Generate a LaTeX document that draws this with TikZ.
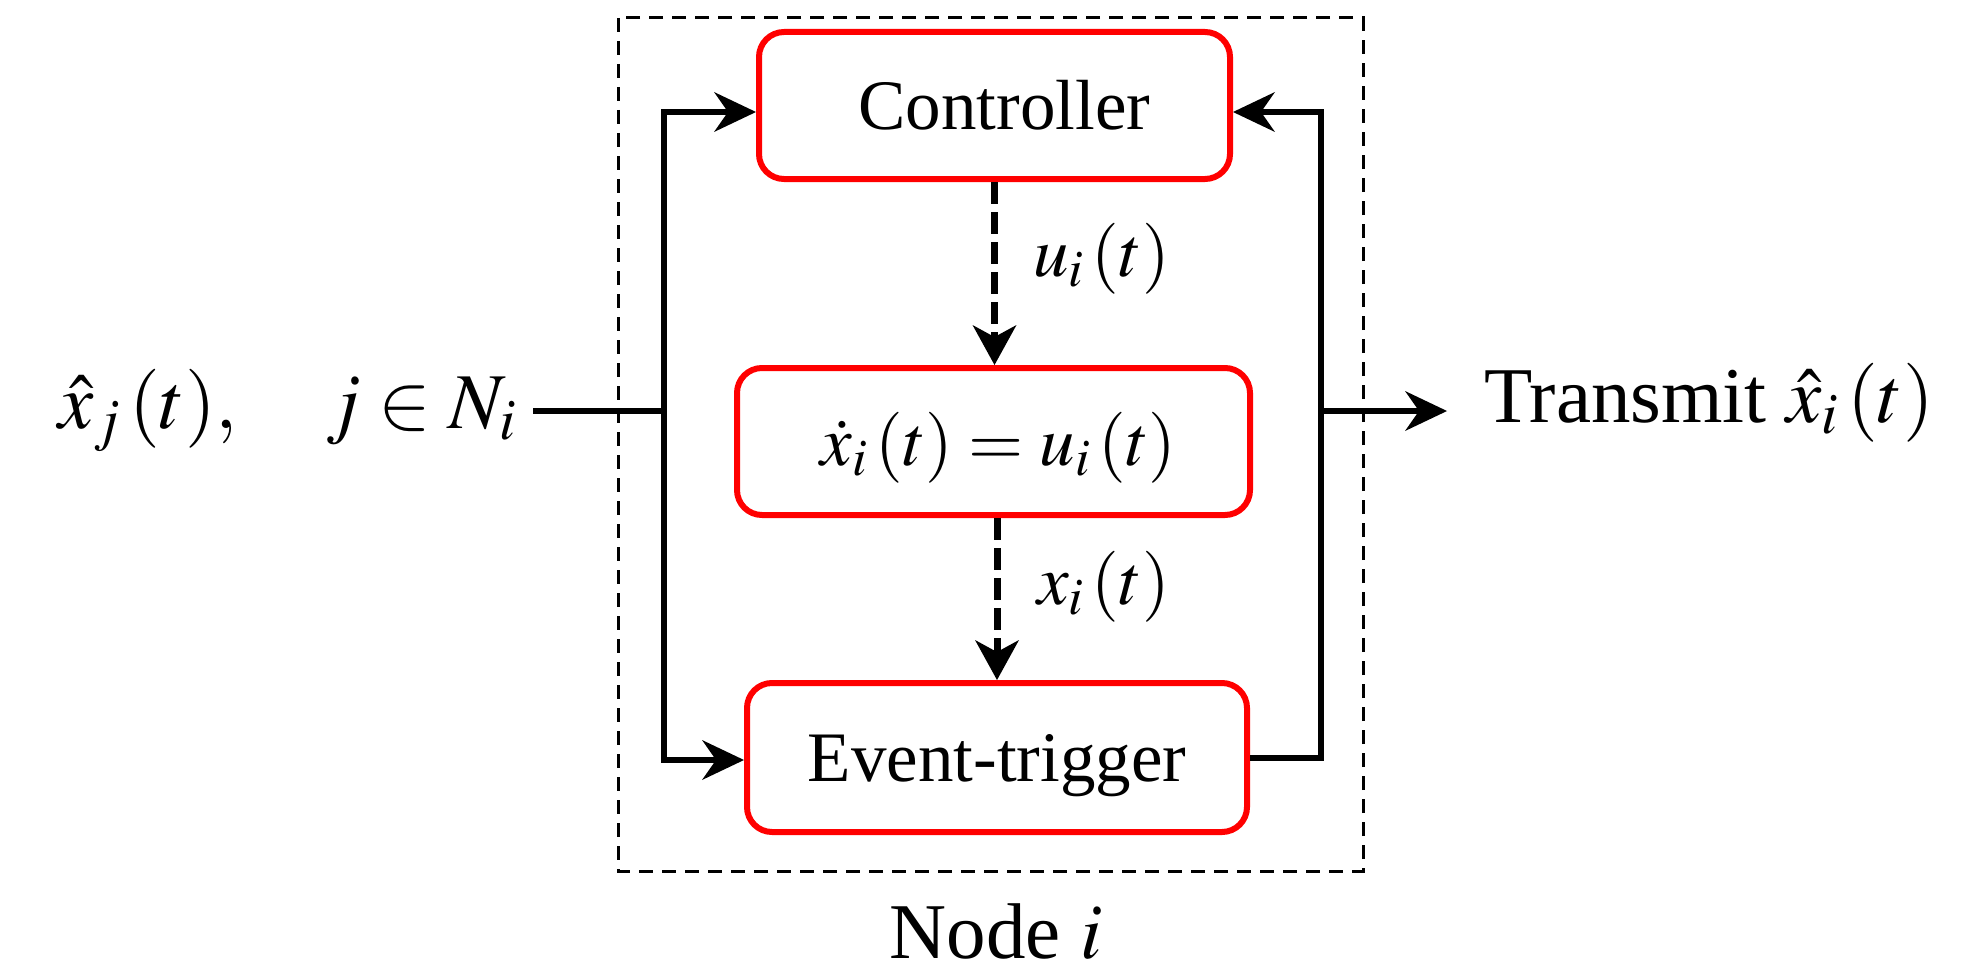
\documentclass[tikz,border=0pt]{standalone}
\usepackage{mathptmx}
\usepackage[no-math]{fontspec}
\setmainfont{Liberation Serif}
\usetikzlibrary{arrows.meta}
\begin{document}
\begin{tikzpicture}[x=1pt,y=-1pt,
  box/.style={draw=red, line width=6pt, rounded corners=25pt, inner sep=0pt,
    text height=47pt, text depth=0pt, font=\fontsize{71}{80}\selectfont},
  conn/.style={line width=6pt, -{Stealth[length=42pt,width=40pt,inset=14pt,line width=0pt]}},
  plainline/.style={line width=6pt},
  dasharrow/.style={line width=7pt, dash pattern=on 22pt off 8pt,
    -{Stealth[length=40pt,width=44pt,inset=12pt,line width=0pt]}},
  big/.style={font=\fontsize{79}{90}\selectfont, inner sep=0pt},
  lbl/.style={font=\fontsize{71}{80}\selectfont, inner sep=0pt}]
\useasboundingbox (0,0) rectangle (1961,979);
% dashed frame
\draw[line width=3pt, dash pattern=on 14pt off 9pt] (618,18) rectangle (1363,871);
% boxes
\node[box, minimum width=471pt, minimum height=147pt] (ctrl) at (994.5,105.5) {\hspace*{20pt}Controller};
\node[box, minimum width=513pt, minimum height=147pt] (mid) at (993.5,441.5) {\hspace*{10pt}$\dot{x}_i\,(t)=u_i\,(t)$};
\node[box, minimum width=500pt, minimum height=149pt] (ev) at (997,757.5) {Event-trigger};
% texts
\node[big, anchor=base west] (inp) at (58,428) {$\hat{x}_j\,(t),\quad j\in N_i$};
\node[big, anchor=base west] (out) at (1484,422) {Transmit $\hat{x}_i\,(t)$};
\node[big, anchor=base] (nodei) at (996,958) {Node $i$};
\node[lbl, anchor=base west] (ulbl) at (1033,276) {$u_i\,(t)$};
\node[lbl, anchor=base west] (xlbl) at (1037,604) {$x_i\,(t)$};
% coordinates
\coordinate (inL) at (533,411);
\coordinate (jl) at (664,411);
\coordinate (tl) at (664,112);
\coordinate (bl) at (664,760);
\coordinate (tr) at (1321,112);
\coordinate (jr) at (1321,411);
\coordinate (otip) at (1447,411);
% connectors
\draw[plainline] (inL) -- (jl);
\draw[conn] (jl) |- (ctrl.west |- tl);
\draw[conn] (jl) |- (ev.west |- bl);
\draw[conn] (ev.east) -| (tr) -- (ctrl.east |- tr);
\draw[conn] (jr) -- (otip);
\draw[dasharrow] (ctrl.south) -- (mid.north -| ctrl.south);
\draw[dasharrow] (mid.south -| ev.north) -- (ev.north);
\end{tikzpicture}
\end{document}
